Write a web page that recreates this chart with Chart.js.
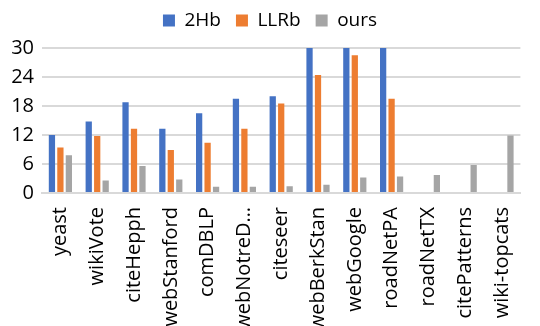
<!DOCTYPE html>
<html>
<head>
<meta charset="utf-8">
<script src="https://cdn.jsdelivr.net/npm/chart.js@4/dist/chart.umd.min.js"></script>
<style>
  html, body { margin: 0; padding: 0; background: #fff; overflow: hidden; }
  #wrap { width: 540px; height: 326px; position: relative; }
</style>
</head>
<body>
<div id="wrap"><canvas id="chart"></canvas></div>
<script>
const graphNames = ["yeast", "wikiVote", "citeHepph", "webStanford", "comDBLP", "webNotreD\u2026",
  "citeseer", "webBerkStan", "webGoogle", "roadNetPA", "roadNetTX", "citePatterns", "wiki-topcats"];
const twoHb = [12.0, 14.8, 18.8, 13.3, 16.5, 19.5, 20.0, 30, 30, 30, null, null, null];
const llrb = [9.4, 11.8, 13.3, 8.9, 10.4, 13.3, 18.5, 24.4, 28.5, 19.5, null, null, null];
const ours = [7.8, 2.6, 5.6, 2.8, 1.3, 1.3, 1.4, 1.7, 3.2, 3.4, 3.7, 5.8, 11.9];
const yTicks = [0, 6, 12, 18, 24, 30];

const palette = ["#4472c4", "#ed7d31", "#a5a5a5"];
const fontFamily = "'Open Sans', sans-serif";

function makeSet(label, data, color) {
  return {
    label: label,
    data: data,
    backgroundColor: color,
    borderWidth: 0,
    categoryPercentage: 0.69,
    barPercentage: 0.74
  };
}

// push plot area a bit lower below the legend
const legendGap = {
  id: "legendGap",
  beforeInit(chart) {
    const fit = chart.legend.fit;
    chart.legend.fit = function () {
      fit.bind(chart.legend)();
      this.height += 8;
    };
  }
};

new Chart(document.getElementById("chart"), {
  type: "bar",
  data: {
    labels: graphNames,
    datasets: [
      makeSet("2Hb", twoHb, palette[0]),
      makeSet("LLRb", llrb, palette[1]),
      makeSet("ours", ours, palette[2])
    ]
  },
  plugins: [legendGap],
  options: {
    responsive: true,
    maintainAspectRatio: false,
    animation: false,
    events: [],
    layout: { padding: { top: -4, right: 0, left: 0, bottom: 0 } },
    scales: {
      x: {
        grid: { display: false, drawTicks: false },
        border: { color: "#d9d9d9", width: 2 },
        ticks: {
          autoSkip: false,
          minRotation: 90,
          maxRotation: 90,
          padding: 14,
          color: "#000",
          font: { family: fontFamily, size: 20 }
        },
        afterFit: (scale) => { scale.height = 133; }
      },
      y: {
        min: 0,
        max: 30,
        afterBuildTicks: (scale) => { scale.ticks = yTicks.map(v => ({ value: v })); },
        grid: { color: "#d9d9d9", lineWidth: 2, drawTicks: false },
        border: { display: false },
        ticks: {
          padding: 8,
          color: "#000",
          font: { family: fontFamily, size: 20 }
        },
        afterFit: (scale) => { scale.width = 42; }
      }
    },
    plugins: {
      legend: {
        position: "top",
        labels: {
          boxWidth: 12,
          boxHeight: 12,
          padding: 15,
          color: "#000",
          font: { family: fontFamily, size: 19 }
        }
      },
      tooltip: { enabled: false }
    }
  }
});
</script>
</body>
</html>
